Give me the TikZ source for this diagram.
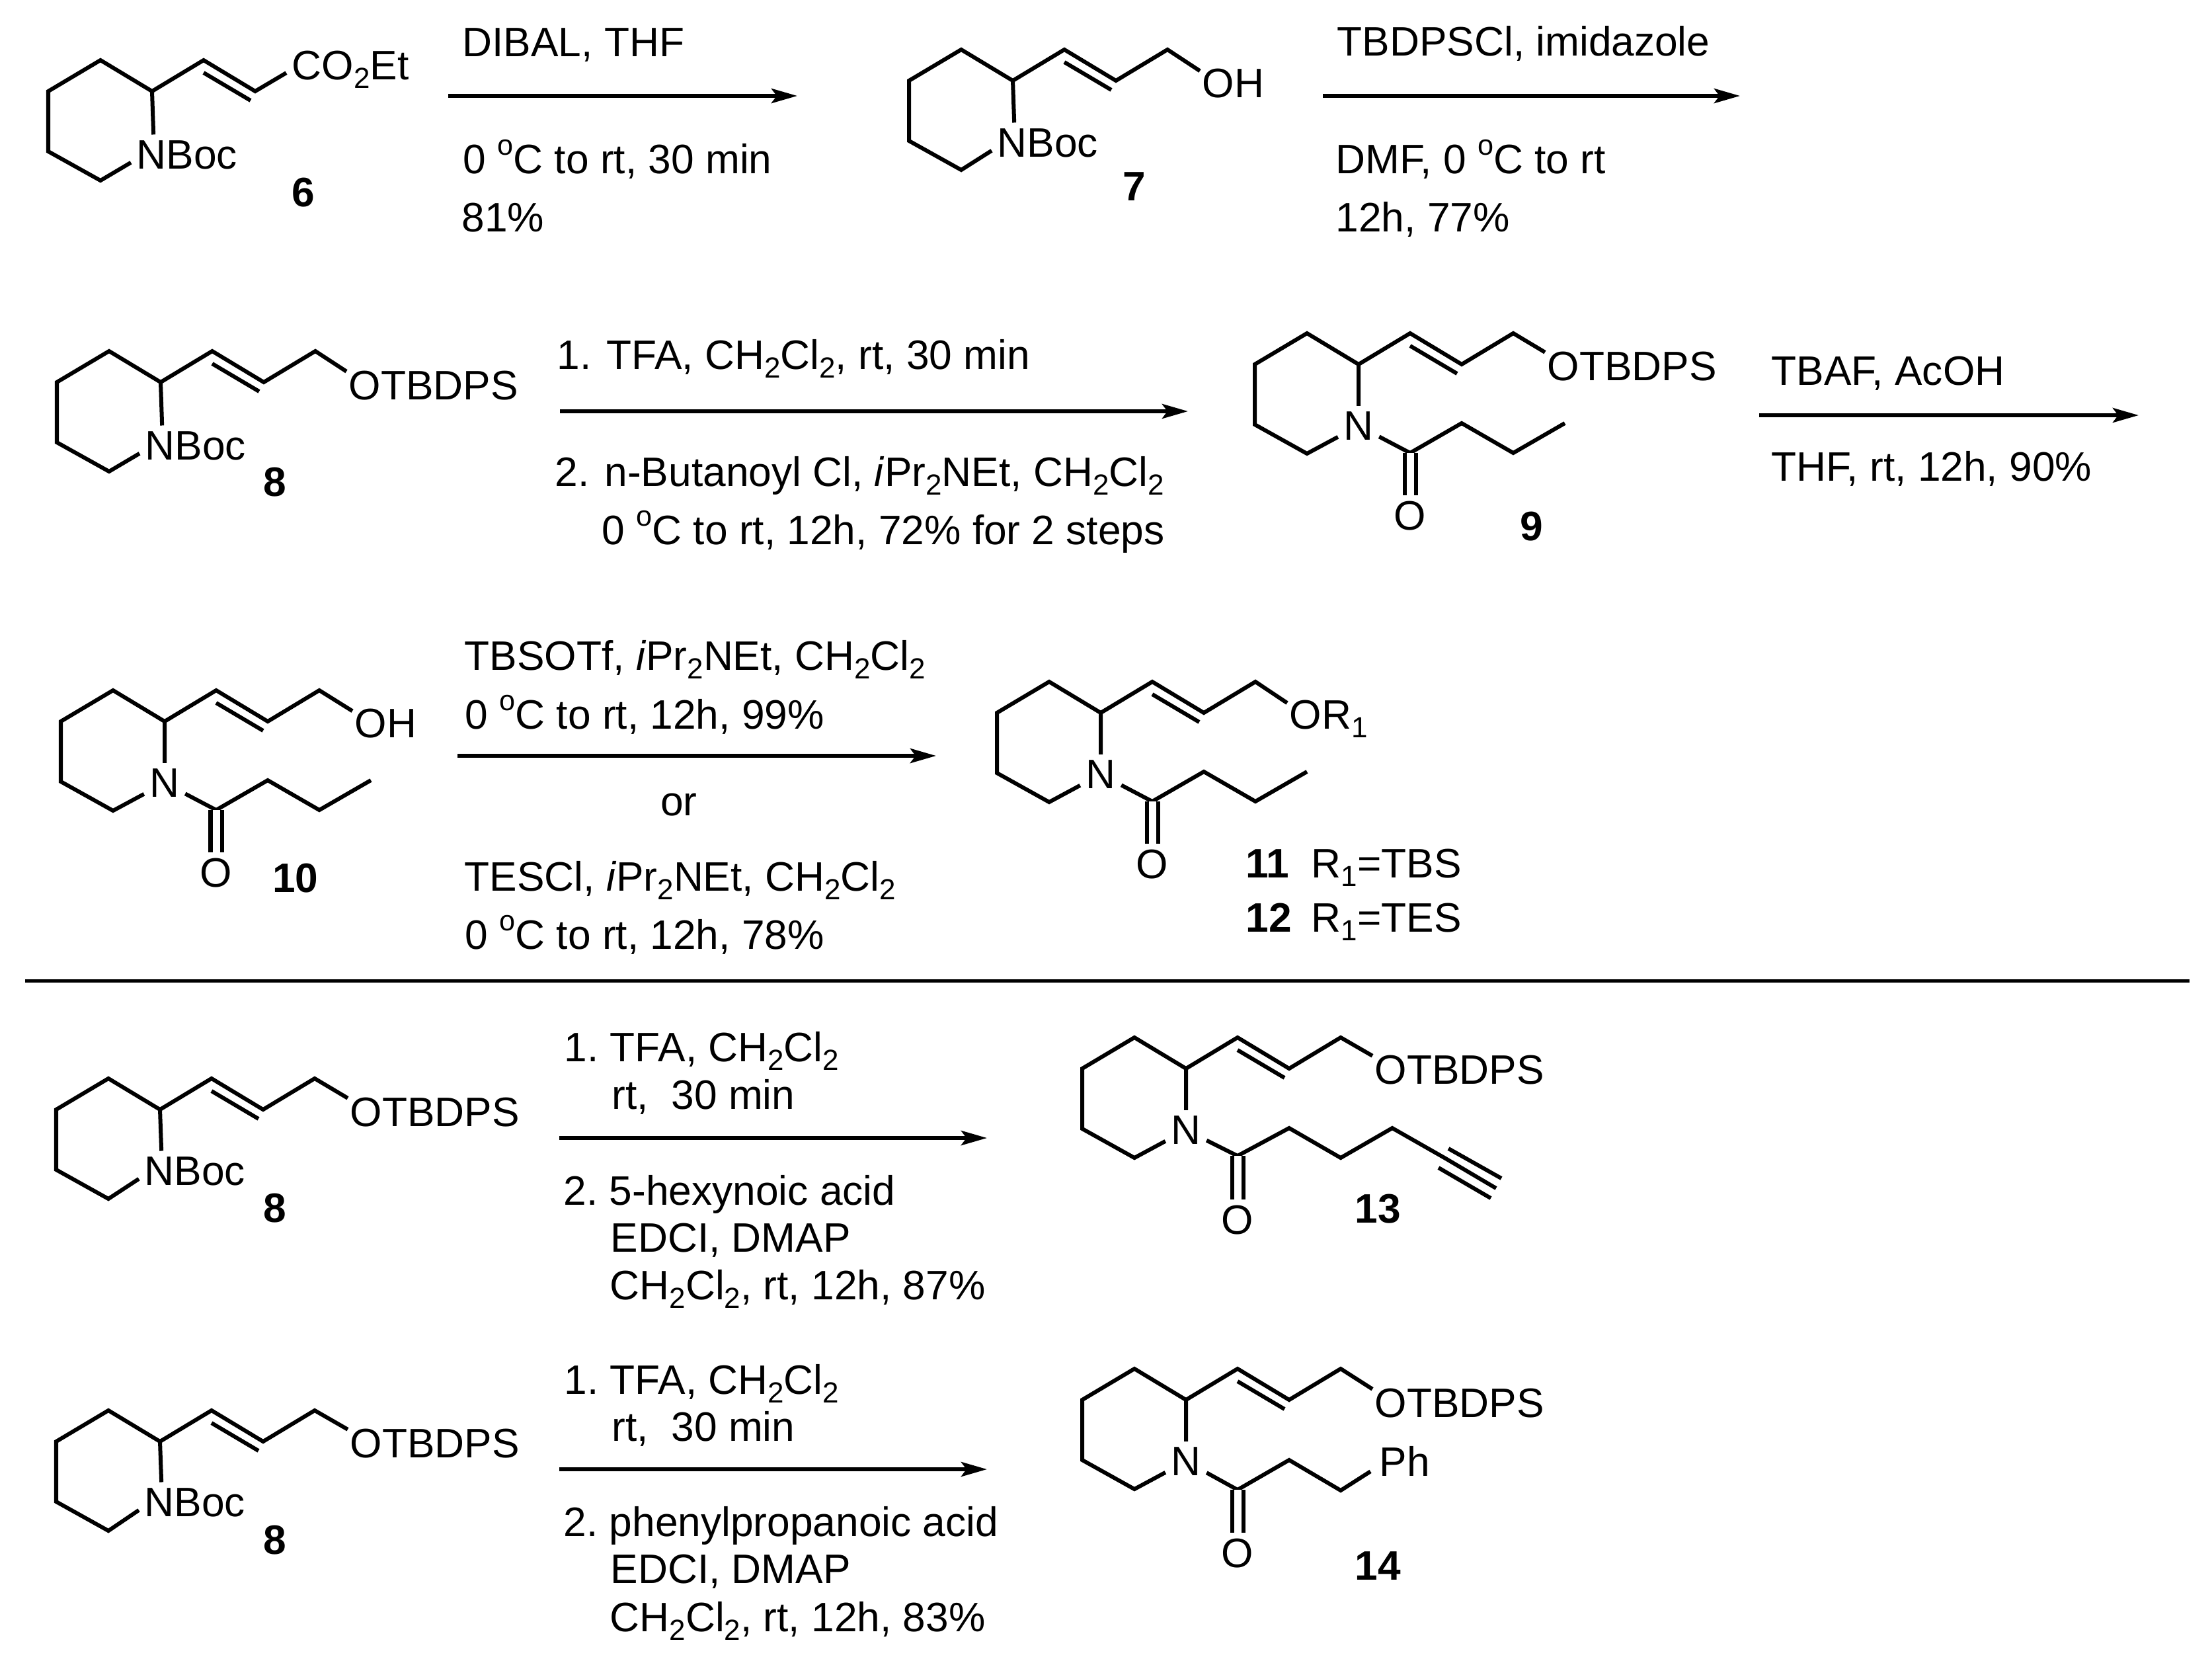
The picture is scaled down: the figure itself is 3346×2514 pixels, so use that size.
\documentclass[tikz,border=0pt]{standalone}
\usepackage{fontspec}
\setmainfont{Liberation Sans}
\usetikzlibrary{arrows.meta,calc}
\newcommand{\rfont}{\fontsize{17.7}{21}\selectfont}
\newcommand{\subs}[1]{\raisebox{-0.22em}{\fontsize{12.5}{12.5}\selectfont #1}}
\newcommand{\supo}{\raisebox{0.45em}{\fontsize{12.3}{12.5}\selectfont o}}
\tikzstyle{bond}=[line width=0.06cm]
\tikzstyle{dbond}=[line width=0.06cm, double, double distance=0.11cm]
\tikzstyle{rxnline}=[line width=0.06cm, -{Stealth[length=3.9mm,width=2.2mm,inset=0.8mm]}]
\tikzstyle{sepline}=[line width=0.05cm]
\tikzstyle{rgt}=[anchor=base west, inner sep=0pt, font=\rfont]
\tikzstyle{atxt}=[anchor=base west, inner sep=0.08cm, font=\rfont]
\tikzstyle{otxt}=[anchor=base west, inner sep=0.03cm, font=\rfont]
\tikzstyle{atom}=[inner sep=0.08cm, font=\rfont]
\tikzstyle{cmpd}=[anchor=base, inner sep=0pt, font=\rfont\bfseries]

\begin{document}
\begin{tikzpicture}[x=0.01cm,y=-0.01cm]
\useasboundingbox (0,0) rectangle (3346,2514);

% compound 6
\coordinate (C6) at (230,138);
\node (NB6) [atxt] at ($(C6)+(-32,117)$) {NBoc};
\node (CO6) [atxt] at (433,120) {CO\subs{2}Et};
\node (L6) [cmpd] at (459,312) {6};
\draw[bond] (NB6.188) -- ($(C6)+(-78,135)$) -- ++(-79,-44) -- ++(0,-91) -- ++(79,-47) -- (C6) -- (NB6.149);
\draw[bond] (C6) -- ++(78,-47) -- ++(78,47) -- (CO6.183);
\draw[bond] ($(C6)+(78,-28)$) -- ++(71,42);

% DIBAL step
\coordinate (A1s) at (678,145);
\coordinate (A1e) at (1206,145);
\draw[rxnline] (A1s) -- (A1e);
\node (R1a) [rgt] at (699,85) {DIBAL, THF};
\node (R1b) [rgt] at (700,262) {0 \supo C to rt, 30 min};
\node (R1c) [rgt] at (698,350) {81\%};

% compound 7
\coordinate (C7) at (1532,122);
\node (NB7) [atxt] at ($(C7)+(-32,115)$) {NBoc};
\node (OH7) [otxt] at (1815,147) {OH};
\node (L7) [cmpd] at (1716,303) {7};
\draw[bond] (NB7.188) -- ($(C7)+(-78,135)$) -- ++(-79,-44) -- ++(0,-91) -- ++(79,-47) -- (C7) -- (NB7.149);
\draw[bond] (C7) -- ++(78,-47) -- ++(78,47) -- ++(78,-47) -- (OH7.160);
\draw[bond] ($(C7)+(78,-28)$) -- ++(71,42);

% silylation step
\coordinate (A2s) at (2001,145);
\coordinate (A2e) at (2632,145);
\draw[rxnline] (A2s) -- (A2e);
\node (R2a) [rgt] at (2022,84) {TBDPSCl, imidazole};
\node (R2b) [rgt] at (2020,262) {DMF, 0 \supo C to rt};
\node (R2c) [rgt] at (2020,350) {12h, 77\%};

% compound 8, first row
\coordinate (C8) at (243,578);
\node (NB8) [atxt] at ($(C8)+(-32,117)$) {NBoc};
\node (OT8) [otxt] at (524,604) {OTBDPS};
\node (L8) [cmpd] at (416,750) {8};
\draw[bond] (NB8.188) -- ($(C8)+(-78,135)$) -- ++(-79,-44) -- ++(0,-91) -- ++(79,-47) -- (C8) -- (NB8.149);
\draw[bond] (C8) -- ++(78,-47) -- ++(78,47) -- ++(78,-47) -- (OT8.171);
\draw[bond] ($(C8)+(78,-28)$) -- ++(71,42);

% acylation step
\coordinate (A3s) at (847,622);
\coordinate (A3e) at (1797,622);
\draw[rxnline] (A3s) -- (A3e);
\node (R3a) [rgt] at (842,558) {1. TFA, CH\subs{2}Cl\subs{2}, rt, 30 min};
\node (R3b) [rgt] at (839,735) {2. n-Butanoyl Cl, \textit{i}Pr\subs{2}NEt, CH\subs{2}Cl\subs{2}};
\node (R3c) [rgt] at (910,823) {0 \supo C to rt, 12h, 72\% for 2 steps};

% compound 9
\coordinate (C9) at (2055,551);
\coordinate (K9) at ($(C9)+(78,134)$);
\node (N9) [atom] at ($(C9)+(0,93)$) {N};
\node (O9) [atom] at ($(K9)+(0,95)$) {O};
\node (OT9) [otxt] at (2337,575) {OTBDPS};
\node (L9) [cmpd] at (2317,817) {9};
\draw[bond] (N9) -- ($(C9)+(-78,135)$) -- ++(-79,-44) -- ++(0,-91) -- ++(79,-47) -- (C9) -- (N9);
\draw[bond] (C9) -- ++(78,-47) -- ++(78,47) -- ++(78,-47) -- (OT9.171);
\draw[bond] ($(C9)+(78,-28)$) -- ++(71,42);
\draw[bond] (N9) -- (K9) -- ++(78,-45) -- ++(78,45) -- ++(78,-45);
\draw[dbond] (K9) -- (O9);

% desilylation step
\coordinate (A4s) at (2661,628);
\coordinate (A4e) at (3235,628);
\draw[rxnline] (A4s) -- (A4e);
\node (R4a) [rgt] at (2679,582) {TBAF, AcOH};
\node (R4b) [rgt] at (2679,727) {THF, rt, 12h, 90\%};

% compound 10
\coordinate (C10) at (249,1091);
\coordinate (K10) at ($(C10)+(78,134)$);
\node (N10) [atom] at ($(C10)+(0,93)$) {N};
\node (O10) [atom] at ($(K10)+(0,95)$) {O};
\node (OH10) [otxt] at (533,1115) {OH};
\node (L10) [cmpd] at (447,1349) {10};
\draw[bond] (N10) -- ($(C10)+(-78,135)$) -- ++(-79,-44) -- ++(0,-91) -- ++(79,-47) -- (C10) -- (N10);
\draw[bond] (C10) -- ++(78,-47) -- ++(78,47) -- ++(78,-47) -- (OH10.160);
\draw[bond] ($(C10)+(78,-28)$) -- ++(71,42);
\draw[bond] (N10) -- (K10) -- ++(78,-45) -- ++(78,45) -- ++(78,-45);
\draw[dbond] (K10) -- (O10);

% protection step
\coordinate (A5s) at (692,1143);
\coordinate (A5e) at (1416,1143);
\draw[rxnline] (A5s) -- (A5e);
\node (R5a) [rgt] at (702,1013) {TBSOTf, \textit{i}Pr\subs{2}NEt, CH\subs{2}Cl\subs{2}};
\node (R5b) [rgt] at (703,1102) {0 \supo C to rt, 12h, 99\%};
\node (R5c) [rgt, anchor=base] at (1027,1233) {or};
\node (R5d) [rgt] at (702,1347) {TESCl, \textit{i}Pr\subs{2}NEt, CH\subs{2}Cl\subs{2}};
\node (R5e) [rgt] at (703,1435) {0 \supo C to rt, 12h, 78\%};

% compounds 11 and 12
\coordinate (C11) at (1665,1078);
\coordinate (K11) at ($(C11)+(78,134)$);
\node (N11) [atom] at ($(C11)+(0,93)$) {N};
\node (O11) [atom] at ($(K11)+(0,95)$) {O};
\node (OR11) [otxt] at (1947,1102) {OR\subs{1}};
\node (L11) [cmpd, anchor=base west] at (1884,1327) {11};
\node (T11) [rgt] at (1983,1327) {R\subs{1}=TBS};
\node (L12) [cmpd, anchor=base west] at (1884,1409) {12};
\node (T12) [rgt] at (1983,1409) {R\subs{1}=TES};
\draw[bond] (N11) -- ($(C11)+(-78,135)$) -- ++(-79,-44) -- ++(0,-91) -- ++(79,-47) -- (C11) -- (N11);
\draw[bond] (C11) -- ++(78,-47) -- ++(78,47) -- ++(78,-47) -- (OR11.159);
\draw[bond] ($(C11)+(78,-28)$) -- ++(71,42);
\draw[bond] (N11) -- (K11) -- ++(78,-45) -- ++(78,45) -- ++(78,-45);
\draw[dbond] (K11) -- (O11);

% divider
\coordinate (Ds) at (38,1483);
\coordinate (De) at (3312,1483);
\draw[sepline] (Ds) -- (De);

% compound 8, lower row
\coordinate (C8b) at (242,1678);
\node (NB8b) [atxt] at ($(C8b)+(-32,114)$) {NBoc};
\node (OT8b) [otxt] at (526,1703) {OTBDPS};
\node (L8b) [cmpd] at (416,1848) {8};
\draw[bond] (NB8b.188) -- ($(C8b)+(-78,135)$) -- ++(-79,-44) -- ++(0,-91) -- ++(79,-47) -- (C8b) -- (NB8b.149);
\draw[bond] (C8b) -- ++(78,-47) -- ++(78,47) -- ++(78,-47) -- (OT8b.171);
\draw[bond] ($(C8b)+(78,-28)$) -- ++(71,42);

% hexynoic acid step
\coordinate (A6s) at (846,1721);
\coordinate (A6e) at (1493,1721);
\draw[rxnline] (A6s) -- (A6e);
\node (R6a) [rgt] at (853,1605) {1.\ TFA, CH\subs{2}Cl\subs{2}};
\node (R6b) [rgt] at (925,1677) {rt,~ 30 min};
\node (R6c) [rgt] at (852,1822) {2.\ 5-hexynoic acid};
\node (R6d) [rgt] at (923,1893) {EDCI, DMAP};
\node (R6e) [rgt] at (922,1965) {CH\subs{2}Cl\subs{2}, rt, 12h, 87\%};

% compound 13
\coordinate (C13) at (1794,1616);
\coordinate (K13) at ($(C13)+(78,132)$);
\node (N13) [atom] at ($(C13)+(0,93)$) {N};
\node (O13) [atom] at ($(K13)+(0,97)$) {O};
\node (OT13) [otxt] at (2076,1639) {OTBDPS};
\node (L13) [cmpd] at (2084,1849) {13};
\draw[bond] (N13) -- ($(C13)+(-78,135)$) -- ++(-79,-44) -- ++(0,-91) -- ++(79,-47) -- (C13) -- (N13);
\draw[bond] (C13) -- ++(78,-47) -- ++(78,47) -- ++(78,-47) -- (OT13.171);
\draw[bond] ($(C13)+(78,-28)$) -- ++(71,42);
\draw[bond] (N13) -- (K13) -- ++(78,-42) -- ++(78,45) -- ++(78,-45) -- ++(79,45) -- ++(78,46);
\draw[bond] ($(C13)+(397,121)$) -- ++(80,45);
\draw[bond] ($(C13)+(382,150)$) -- ++(79,46);
\draw[dbond] (K13) -- (O13);

% compound 8, bottom row
\coordinate (C8c) at (242,2180);
\node (NB8c) [atxt] at ($(C8c)+(-32,113)$) {NBoc};
\node (OT8c) [otxt] at (526,2204) {OTBDPS};
\node (L8c) [cmpd] at (416,2350) {8};
\draw[bond] (NB8c.188) -- ($(C8c)+(-78,135)$) -- ++(-79,-44) -- ++(0,-91) -- ++(79,-47) -- (C8c) -- (NB8c.149);
\draw[bond] (C8c) -- ++(78,-47) -- ++(78,47) -- ++(78,-47) -- (OT8c.171);
\draw[bond] ($(C8c)+(78,-28)$) -- ++(71,42);

% phenylpropanoic acid step
\coordinate (A7s) at (846,2222);
\coordinate (A7e) at (1493,2222);
\draw[rxnline] (A7s) -- (A7e);
\node (R7a) [rgt] at (853,2108) {1.\ TFA, CH\subs{2}Cl\subs{2}};
\node (R7b) [rgt] at (925,2179) {rt,~ 30 min};
\node (R7c) [rgt] at (852,2323) {2.\ phenylpropanoic acid};
\node (R7d) [rgt] at (923,2394) {EDCI, DMAP};
\node (R7e) [rgt] at (922,2467) {CH\subs{2}Cl\subs{2}, rt, 12h, 83\%};

% compound 14
\coordinate (C14) at (1794,2117);
\coordinate (K14) at ($(C14)+(78,136)$);
\node (N14) [atom] at ($(C14)+(0,93)$) {N};
\node (O14) [atom] at ($(K14)+(0,96)$) {O};
\node (OT14) [otxt] at (2076,2143) {OTBDPS};
\node (PH14) [atxt, inner sep=0.13cm] at (2073,2232) {Ph};
\node (L14) [cmpd] at (2084,2389) {14};
\draw[bond] (N14) -- ($(C14)+(-78,135)$) -- ++(-79,-44) -- ++(0,-91) -- ++(79,-47) -- (C14) -- (N14);
\draw[bond] (C14) -- ++(78,-47) -- ++(78,47) -- ++(78,-47) -- (OT14.171);
\draw[bond] ($(C14)+(78,-28)$) -- ++(71,42);
\draw[bond] (N14) -- (K14) -- ++(78,-45) -- ++(78,46) -- (PH14.197);
\draw[dbond] (K14) -- (O14);

\end{tikzpicture}
\end{document}
